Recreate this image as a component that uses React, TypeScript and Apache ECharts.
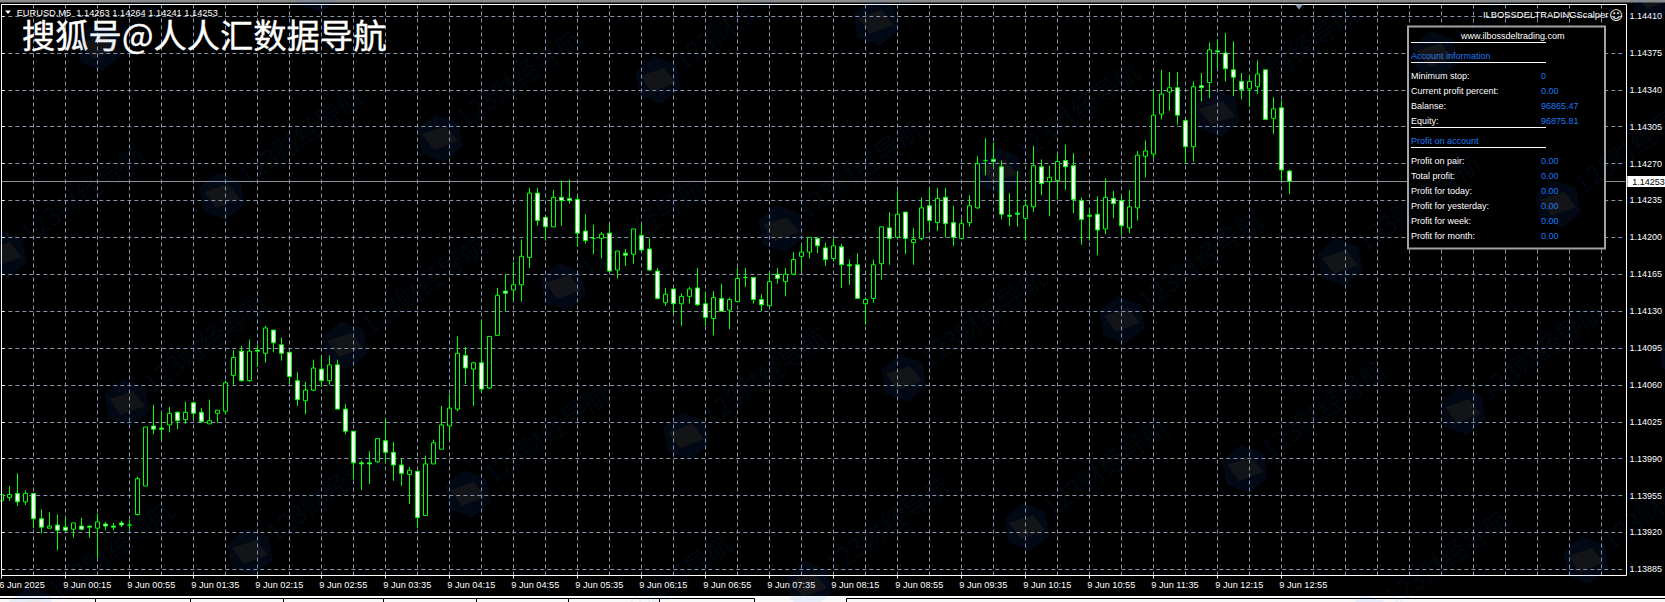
import React, { useEffect, useRef } from "react";
import * as echarts from "echarts";

// All price values are points (1e-5) above the chart's lowest labelled level.
const BASE_PRICE = 1.13885;
const openPts = [65,68,72,64,72,48,39,42,40,38,41,41,39,43,41,44,42,52,79,136,134,137,149,142,158,149,138,148,150,184,207,179,208,205,227,213,206,179,160,170,190,179,194,152,131,101,101,102,122,111,99,90,93,51,100,114,136,152,203,190,196,172,222,264,265,270,296,357,334,325,353,352,351,321,314,314,319,284,300,299,317,304,283,253,266,252,259,267,252,238,257,246,254,277,277,256,250,280,273,280,297,301,314,305,295,306,289,289,252,257,290,324,315,339,310,314,345,329,353,329,314,329,343,388,389,382,336,338,333,344,382,368,369,388,383,350,336,337,323,352,350,324,343,392,394,432,453,457,426,401,459,462,492,490,474,463,456,458,474,428,438,378];
const closePts = [71,71,64,72,48,40,41,37,37,44,38,40,45,41,40,42,42,86,135,133,133,148,141,149,148,140,141,151,177,201,179,207,207,229,215,205,183,161,170,191,179,194,152,131,101,100,100,124,111,99,91,94,49,100,120,137,153,205,191,196,171,221,260,262,270,297,357,331,325,353,350,350,319,312,314,318,283,302,298,323,303,284,257,261,252,259,266,251,239,258,245,256,276,277,256,251,273,276,280,294,301,315,307,294,307,289,288,257,256,289,325,314,337,314,313,343,331,352,328,315,328,345,385,388,387,337,335,337,345,383,366,372,387,382,351,332,335,322,353,347,326,344,393,397,431,451,457,431,401,458,457,493,491,475,467,455,463,470,427,437,379,368];
const lowPts = [65,65,60,61,39,34,39,18,37,30,37,30,11,37,37,40,38,51,79,128,123,130,133,138,142,139,138,139,147,175,178,178,192,196,206,198,176,155,147,169,173,175,152,128,85,75,81,101,101,84,79,62,39,51,100,114,123,150,176,155,168,171,222,245,255,254,286,326,312,325,326,347,306,309,299,295,282,276,288,290,301,283,256,250,243,231,252,250,231,222,245,228,254,268,252,245,249,271,259,279,283,295,300,288,292,267,270,257,232,253,275,289,315,299,289,312,321,321,315,307,314,325,342,374,382,332,326,325,312,339,355,335,351,360,338,308,312,298,318,333,317,319,331,372,390,427,435,422,385,387,444,447,475,463,449,446,439,451,427,413,369,356];
const highPts = [84,79,91,75,72,57,54,52,49,44,49,41,53,45,44,46,47,88,135,156,149,154,150,159,159,153,161,151,179,208,212,218,213,231,227,220,206,187,178,199,202,203,199,157,131,103,112,124,143,121,105,97,93,108,123,155,166,221,211,197,237,221,267,280,292,313,362,362,334,360,369,370,355,337,327,320,327,302,304,323,328,314,286,267,266,262,268,286,263,264,271,258,286,286,277,261,282,286,286,301,308,315,315,310,314,309,294,300,258,294,325,339,359,339,324,353,362,362,362,345,333,355,392,409,405,388,357,378,351,402,389,383,394,403,395,353,343,354,371,359,354,360,397,407,455,474,472,472,428,463,471,500,503,509,501,471,469,483,474,448,445,379];

const tickLabels = ["6 Jun 2025","9 Jun 00:15","9 Jun 00:55","9 Jun 01:35","9 Jun 02:15","9 Jun 02:55","9 Jun 03:35","9 Jun 04:15","9 Jun 04:55","9 Jun 05:35","9 Jun 06:15","9 Jun 06:55","9 Jun 07:35","9 Jun 08:15","9 Jun 08:55","9 Jun 09:35","9 Jun 10:15","9 Jun 10:55","9 Jun 11:35","9 Jun 12:15","9 Jun 12:55"];
const priceTicks = [1.13885,1.1392,1.13955,1.1399,1.14025,1.1406,1.14095,1.1413,1.14165,1.142,1.14235,1.1427,1.14305,1.1434,1.14375,1.1441];
const LAST_PRICE = 1.14253;
const SLOTS = 204;

const accountRows: [string, string][] = [["Minimum stop:","0"],["Current profit percent:","0.00"],["Balanse:","96865.47"],["Equity:","96875.81"]];
const profitRows: [string, string][] = [["Profit on pair:","0.00"],["Total profit:","0.00"],["Profit for today:","0.00"],["Profit for yesterday:","0.00"],["Profit for week:","0.00"],["Profit for month:","0.00"]];

const FONT = '"Liberation Sans", Arial, sans-serif';
const BLUE = "#1c78f0";
const GRID = "#8794a8";
const Y_MIN = 1.138791;
const Y_MAX = 1.14421;
const toPrice = (p: number) => +(BASE_PRICE + p / 100000).toFixed(5);

function txt(x: number, y: number, text: string, fill = "#fff", size = 9, extra: any = {}) {
  return { type: "text", x, y, z: 60, silent: true, style: { text, fill, font: `${size}px ${FONT}`, verticalAlign: "middle", ...extra } };
}
function hline(x1: number, x2: number, y: number, stroke = "#fff") {
  return { type: "line", z: 60, silent: true, shape: { x1, y1: y, x2, y2: y }, style: { stroke, lineWidth: 1 } };
}

function watermarks() {
  const out: any[] = [];
  for (let i = -5; i <= 9; i++) {
    for (let j = -4; j <= 4; j++) {
      const cx = 127 + i * 218 + j * 123;
      const cy = 403 - i * 58 + j * 149;
      if (cx < -80 || cx > 1750 || cy < -80 || cy > 660) continue;
      const pts: number[][] = [];
      for (let k = 0; k < 6; k++) {
        const a = (Math.PI / 3) * k + 0.35;
        pts.push([cx + 24 * Math.cos(a), cy + 24 * Math.sin(a)]);
      }
      out.push({ type: "polygon", z: 100, silent: true, shape: { points: pts }, style: { fill: "rgba(30,120,255,0.08)" } });
      out.push({ type: "polygon", z: 101, silent: true, shape: { points: [[cx - 18, cy - 4], [cx + 6, cy - 12], [cx + 18, cy + 3], [cx - 6, cy + 12]] }, style: { fill: "rgba(255,170,70,0.07)" } });
      out.push({ type: "text", z: 100, silent: true, x: cx + 18, y: cy - 18, rotation: (36 * Math.PI) / 180, style: { text: "123财经导航", fill: "rgba(30,120,255,0.08)", font: '26px "Noto Sans CJK SC"', verticalAlign: "middle" } });
    }
  }
  return out;
}

function panel() {
  const els: any[] = [];
  els.push({ type: "rect", z: 50, silent: true, shape: { x: 1408, y: 26.5, width: 197, height: 222 }, style: { fill: "#000", stroke: "#a3a3a3", lineWidth: 2 } });
  els.push(txt(1461, 35.5, "www.ilbossdeltrading.com"));
  els.push(hline(1411, 1546, 42.5));
  els.push(txt(1411, 56, "Account information", BLUE));
  els.push(hline(1411, 1546, 62.5));
  accountRows.forEach(([a, b], i) => {
    const y = 76 + i * 15;
    els.push(txt(1411, y, a));
    els.push(txt(1541, y, b, BLUE));
  });
  els.push(hline(1411, 1546, 127.5));
  els.push(txt(1411, 141, "Profit on account", BLUE));
  els.push(hline(1411, 1546, 147.5));
  profitRows.forEach(([a, b], i) => {
    const y = 161 + i * 15;
    els.push(txt(1411, y, a));
    els.push(txt(1541, y, b, BLUE));
  });
  return els;
}

function chrome() {
  const els: any[] = [];
  els.push({ type: "rect", z: 40, silent: true, shape: { x: 0, y: 0, width: 1665, height: 2.5 }, style: { fill: "#8a8a8a" } });
  els.push({ type: "rect", z: 40, silent: true, shape: { x: 1.5, y: 4.5, width: 1625, height: 571 }, style: { fill: "none", stroke: "#fff", lineWidth: 1 } });
  els.push({ type: "rect", z: 40, silent: true, shape: { x: 0, y: 596, width: 1665, height: 6 }, style: { fill: "#f8f8f8" } });
  els.push({ type: "rect", z: 41, silent: true, shape: { x: 0, y: 596, width: 1665, height: 1.6 }, style: { fill: "#fff" } });
  els.push({ type: "line", z: 42, silent: true, shape: { x1: 0, y1: 598.5, x2: 754.5, y2: 598.5 }, style: { stroke: "#000", lineWidth: 1 } });
  els.push({ type: "line", z: 42, silent: true, shape: { x1: 846.5, y1: 598.5, x2: 1665, y2: 598.5 }, style: { stroke: "#000", lineWidth: 1 } });
  [95, 190, 283, 383, 476, 568, 659, 754, 846].forEach((x) => {
    els.push({ type: "line", z: 42, silent: true, shape: { x1: x + 0.5, y1: 598.5, x2: x + 0.5, y2: 602 }, style: { stroke: "#000", lineWidth: 1 } });
  });
  els.push({ type: "polygon", z: 60, silent: true, shape: { points: [[5, 10.5], [11, 10.5], [8, 14]] }, style: { fill: "#fff" } });
  els.push({ type: "polygon", z: 60, silent: true, shape: { points: [[1295, 4.5], [1303, 4.5], [1299, 9.5]] }, style: { fill: GRID } });
  els.push(txt(16.7, 12.8, "EURUSD,M5  1.14263 1.14264 1.14241 1.14253", "#fff", 9.25));
  els.push(txt(1483, 14, "ILBOSSDELTRADINGScalper", "#fff", 9.4));
  els.push({ type: "text", z: 60, silent: true, x: 1609, y: 14.5, style: { text: "☺", fill: "#fff", font: '13.5px "DejaVu Sans"', verticalAlign: "middle" } });
  els.push({ type: "text", z: 60, silent: true, x: 22, y: 33, style: { text: "搜狐号@人人汇数据导航", fill: "#fff", stroke: "#fff", lineWidth: 0.4, font: '33.3px "Noto Sans CJK SC"', verticalAlign: "middle" } });
  return els;
}

export default function App() {
  const ref = useRef<HTMLDivElement>(null);
  useEffect(() => {
    const chart = echarts.init(ref.current!, undefined, { renderer: "svg" });
    const categories = Array.from({ length: SLOTS }, (_, i) => (i % 8 === 0 && tickLabels[i / 8]) || "");
    const data = openPts.map((o, i) => [toPrice(o), toPrice(closePts[i]), toPrice(lowPts[i]), toPrice(highPts[i])]);
    chart.setOption({
      animation: false,
      backgroundColor: "#000",
      grid: { left: 1.3, top: 4.5, width: 1624, height: 571, containLabel: false, outerBoundsMode: "none" },
      xAxis: [
        {
          type: "category",
          boundaryGap: false,
          data: categories,
          axisLine: { show: false },
          axisTick: { show: true, length: 3, lineStyle: { color: "#fff" }, interval: (i: number) => i % 8 === 0 && i <= 160 },
          axisLabel: { show: true, interval: 7, align: "left", color: "#fff", fontFamily: FONT, fontSize: 9.2, margin: 5, padding: [0, 0, 0, -2], showMinLabel: true, showMaxLabel: false },
          splitLine: { show: true, interval: 3, lineStyle: { color: GRID, width: 1, type: [4, 3] } },
        },
        { type: "value", min: 0, max: SLOTS - 1, show: false, splitLine: { show: false } },
      ],
      yAxis: {
        type: "value",
        position: "right",
        offset: 1.2,
        min: Y_MIN,
        max: Y_MAX,
        scale: true,
        axisLine: { show: true, lineStyle: { color: "#fff" } },
        axisTick: { show: true, length: 3, lineStyle: { color: "#fff" }, customValues: priceTicks },
        axisLabel: { show: true, color: "#fff", fontFamily: FONT, fontSize: 9, margin: 3, customValues: priceTicks, formatter: (v: number) => v.toFixed(5) },
        splitLine: { show: true, lineStyle: { color: GRID, width: 1, type: [4, 3] } },
      },
      series: [
        {
          type: "line",
          z: 1,
          xAxisIndex: 1,
          data: [[0, LAST_PRICE], [SLOTS - 1, LAST_PRICE]],
          showSymbol: false,
          symbol: "none",
          silent: true,
          lineStyle: { color: "#8f939b", type: "solid", width: 1 },
          endLabel: { show: true, distance: 2, color: "#000", backgroundColor: "#fff", fontFamily: FONT, fontSize: 9, padding: [1, 6, 1, 5], formatter: () => LAST_PRICE.toFixed(5) },
        },
        {
          type: "candlestick",
          z: 2,
          xAxisIndex: 0,
          data,
          barWidth: 4,
          clip: true,
          itemStyle: { color: "#000", color0: "#fff", borderColor: "#00ff00", borderColor0: "#00ff00", borderWidth: 1 },
        },
      ],
      graphic: { elements: [...chrome(), ...panel(), ...watermarks()] },
    });
    return () => chart.dispose();
  }, []);
  return <div ref={ref} style={{ position: "absolute", left: 0, top: 0, width: 1665, height: 602, background: "#000" }} />;
}
